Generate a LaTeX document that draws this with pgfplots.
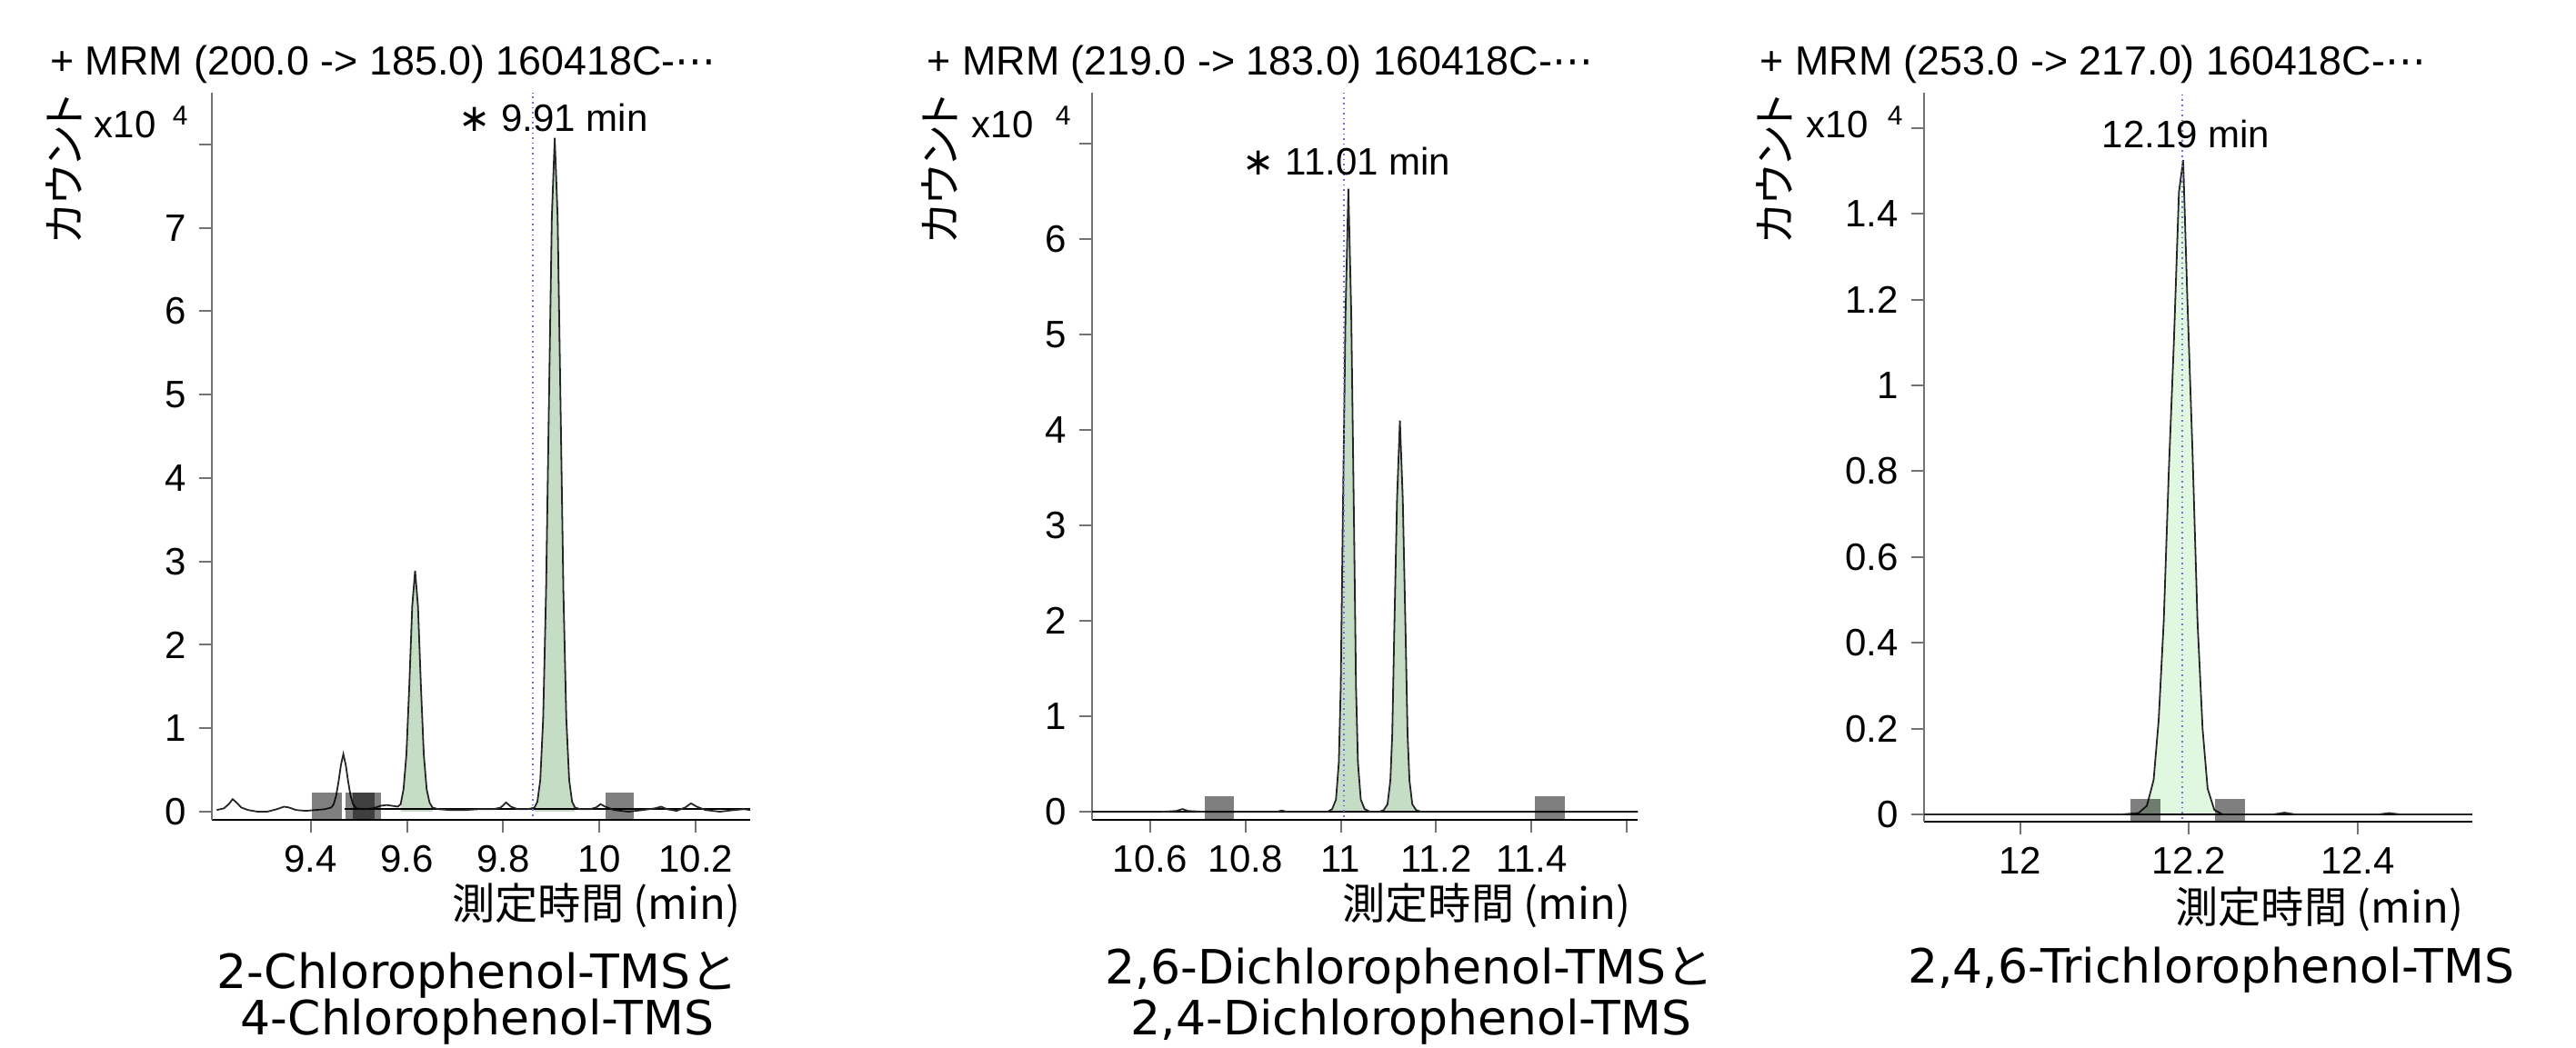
\documentclass[border=0pt]{standalone}
\usepackage{fontspec}
\usepackage{pgfplots}
\usepackage{pgfplotstable}
\pgfplotsset{compat=1.18}
\setmainfont{Liberation Sans}
\newfontfamily\dejavu{DejaVu Sans}
\newfontfamily\jp{Noto Sans CJK JP}
\newfontfamily\jpp[RawFeature=+palt]{Noto Sans CJK JP}
\newcommand{\tickfont}{\fontsize{10.5}{12}\selectfont}
\newcommand{\titlefont}{\fontsize{11.2}{13}\selectfont}
\newcommand{\capfont}{\dejavu\fontsize{13}{15}\selectfont}
\newcommand{\jpsize}{\fontsize{11.8}{14}\selectfont}
\definecolor{pkgreen}{RGB}{196,221,196}
\definecolor{pkgreenlt}{RGB}{224,247,224}
\definecolor{rtblue}{RGB}{110,110,235}

% chromatogram 1: MRM 200 -> 185
\pgfplotstableread{
t c
9.205 0.02
9.220 0.04
9.230 0.09
9.238 0.15
9.246 0.11
9.256 0.05
9.270 0.02
9.290 0.00
9.310 0.00
9.330 0.03
9.345 0.06
9.355 0.05
9.370 0.02
9.390 0.01
9.410 0.02
9.430 0.03
9.443 0.05
9.448 0.09
9.453 0.19
9.458 0.36
9.463 0.56
9.468 0.69
9.473 0.56
9.478 0.36
9.483 0.19
9.488 0.09
9.495 0.04
9.510 0.03
9.530 0.04
9.545 0.07
9.558 0.08
9.570 0.07
9.581 0.06
9.587 0.09
9.593 0.27
9.599 0.69
9.605 1.52
9.611 2.46
9.617 2.89
9.623 2.46
9.629 1.52
9.635 0.69
9.641 0.27
9.647 0.11
9.653 0.05
9.665 0.03
9.690 0.02
9.720 0.02
9.750 0.03
9.780 0.03
9.795 0.05
9.806 0.11
9.816 0.06
9.830 0.03
9.850 0.03
9.859 0.04
9.865 0.05
9.871 0.12
9.877 0.38
9.883 1.12
9.889 2.64
9.895 4.91
9.901 7.13
9.907 8.08
9.913 7.13
9.919 4.91
9.925 2.64
9.931 1.12
9.937 0.38
9.943 0.12
9.949 0.05
9.960 0.03
9.980 0.03
9.993 0.05
10.002 0.09
10.012 0.06
10.030 0.02
10.060 0.00
10.090 0.02
10.115 0.04
10.128 0.06
10.140 0.03
10.160 0.01
10.178 0.05
10.190 0.10
10.202 0.06
10.220 0.02
10.250 0.00
10.280 0.02
10.300 0.03
10.313 0.02
}\traceA

% chromatogram 2: MRM 219 -> 183
\pgfplotstableread{
t c
10.480 0.00
10.550 0.00
10.620 0.00
10.655 0.01
10.668 0.03
10.680 0.01
10.720 0.00
10.800 0.00
10.866 0.00
10.876 0.015
10.888 0.00
10.950 0.00
10.972 0.00
10.982 0.03
10.990 0.13
10.996 0.52
11.000 1.31
11.004 2.94
11.010 5.22
11.016 6.53
11.022 5.22
11.028 2.94
11.032 1.31
11.036 0.52
11.042 0.13
11.050 0.03
11.062 0.00
11.080 0.00
11.090 0.02
11.098 0.08
11.104 0.33
11.108 0.82
11.112 1.85
11.118 3.28
11.124 4.10
11.130 3.28
11.136 1.85
11.140 0.82
11.144 0.33
11.150 0.08
11.158 0.02
11.170 0.00
11.300 0.00
11.450 0.00
11.623 0.00
}\traceB

% chromatogram 3: MRM 253 -> 217
\pgfplotstableread{
t c
11.886 0.000
11.950 0.000
12.050 0.000
12.120 0.000
12.140 0.003
12.150 0.020
12.158 0.080
12.164 0.220
12.170 0.450
12.176 0.800
12.182 1.100
12.188 1.450
12.193 1.525
12.198 1.200
12.204 0.850
12.210 0.450
12.216 0.200
12.222 0.060
12.230 0.010
12.240 0.000
12.300 0.000
12.313 0.004
12.326 0.000
12.425 0.000
12.437 0.003
12.450 0.000
12.535 0.000
}\traceC

\pgfplotsset{chrom/.style={
  scale only axis, anchor=south west,
  axis lines=left,
  x axis line style={-, black, line width=0.6pt},
  y axis line style={-, black!55, line width=0.5pt},
  tick align=outside, major tick length=3.6pt,
  tick style={black!55, line width=0.5pt},
  tick label style={font=\tickfont},
}}
\pgfplotsset{trace/.style={black!85, line width=0.45pt},
  box/.style={fill=black, fill opacity=0.5, draw=none}}

\begin{document}
\begin{tikzpicture}
\useasboundingbox (0,0) rectangle (708.25pt,288.25pt);

\begin{axis}[chrom, at={(58.25pt,62.75pt)}, width=148pt, height=200pt,
  xmin=9.1949, xmax=10.3129, ymin=-0.098, ymax=8.621,
  xtick={9.4,9.6,9.8,10,10.2}, xticklabels={9.4,9.6,9.8,10,10.2},
  ytick={0,1,...,8}, yticklabels={0,1,2,3,4,5,6,7,{}}]
\addplot[fill=pkgreen, draw=none, restrict x to domain=9.585:9.655] table[x=t,y=c] {\traceA} \closedcycle;
\addplot[fill=pkgreen, draw=none, restrict x to domain=9.860:9.952] table[x=t,y=c] {\traceA} \closedcycle;
\addplot[black, line width=0.5pt] coordinates {(9.47,0.03)(10.313,0.03)};
\addplot[trace] table[x=t,y=c] {\traceA};
\addplot[rtblue, densely dotted, line width=0.4pt] coordinates {(9.862,-0.05)(9.862,8.621)};
\addplot[box] coordinates {(9.4026,-0.098)(9.4643,-0.098)(9.4643,0.23)(9.4026,0.23)};
\addplot[box] coordinates {(9.4725,-0.098)(9.5333,-0.098)(9.5333,0.23)(9.4725,0.23)};
\addplot[box] coordinates {(9.4867,-0.098)(9.5462,-0.098)(9.5462,0.23)(9.4867,0.23)};
\addplot[box] coordinates {(10.0125,-0.098)(10.072,-0.098)(10.072,0.23)(10.0125,0.23)};
\end{axis}

\begin{axis}[chrom, at={(300.25pt,62.75pt)}, width=150.1pt, height=200pt,
  xmin=10.4788, xmax=11.623, ymin=-0.083, ymax=7.536,
  xtick={10.6,10.8,11,11.2,11.4,11.6}, xticklabels={10.6,10.8,11,11.2,11.4,{}},
  ytick={0,1,...,7}, yticklabels={0,1,2,3,4,5,6,{}}]
\addplot[fill=pkgreen, draw=none, restrict x to domain=10.975:11.055] table[x=t,y=c] {\traceB} \closedcycle;
\addplot[fill=pkgreen, draw=none, restrict x to domain=11.085:11.162] table[x=t,y=c] {\traceB} \closedcycle;
\addplot[black, line width=0.5pt] coordinates {(10.4788,0)(11.623,0)};
\addplot[trace] table[x=t,y=c] {\traceB};
\addplot[rtblue, densely dotted, line width=0.4pt] coordinates {(11.007,-0.05)(11.007,7.536)};
\addplot[box] coordinates {(10.715,-0.083)(10.777,-0.083)(10.777,0.165)(10.715,0.165)};
\addplot[box] coordinates {(11.406,-0.083)(11.469,-0.083)(11.469,0.165)(11.406,0.165)};
\end{axis}

\begin{axis}[chrom, at={(529pt,62.25pt)}, width=150.7pt, height=200.5pt,
  xmin=11.886, xmax=12.5355, ymin=-0.017, ymax=1.682,
  xtick={12,12.2,12.4}, xticklabels={12,12.2,12.4},
  ytick={0,0.2,0.4,0.6,0.8,1,1.2,1.4,1.6}, yticklabels={0,0.2,0.4,0.6,0.8,1,1.2,1.4,{}}]
\addplot[fill=pkgreenlt, draw=none, restrict x to domain=12.138:12.232] table[x=t,y=c] {\traceC} \closedcycle;
\addplot[black, line width=0.5pt] coordinates {(11.886,0)(12.5355,0)};
\addplot[trace] table[x=t,y=c] {\traceC};
\addplot[rtblue, densely dotted, line width=0.4pt] coordinates {(12.192,-0.01)(12.192,1.682)};
\addplot[box] coordinates {(12.131,-0.017)(12.166,-0.017)(12.166,0.035)(12.131,0.035)};
\addplot[box] coordinates {(12.231,-0.017)(12.266,-0.017)(12.266,0.035)(12.231,0.035)};
\end{axis}

% texts, placed in pixel units of the reference (origin top left)
\begin{scope}[x=0.25pt, y=-0.25pt, yshift=288.25pt]
\node[anchor=base west, inner sep=0, font=\titlefont] at (54.5,83) {+ MRM (200.0 -> 185.0) 160418C-{\dejavu ⋯}};
\node[anchor=base west, inner sep=0, font=\titlefont] at (1019,83) {+ MRM (219.0 -> 183.0) 160418C-{\dejavu ⋯}};
\node[anchor=base west, inner sep=0, font=\titlefont] at (1935,83) {+ MRM (253.0 -> 217.0) 160418C-{\dejavu ⋯}};

\node[anchor=base west, inner sep=0, font=\tickfont] at (103,152) {x10};
\node[anchor=base west, inner sep=0, font=\fontsize{7.5}{9}\selectfont] at (189,138) {4};
\node[anchor=base west, inner sep=0, font=\tickfont] at (1068,152) {x10};
\node[anchor=base west, inner sep=0, font=\fontsize{7.5}{9}\selectfont] at (1160,138) {4};
\node[anchor=base west, inner sep=0, font=\tickfont] at (1986,152) {x10};
\node[anchor=base west, inner sep=0, font=\fontsize{7.5}{9}\selectfont] at (2075,138) {4};

\node[rotate=90, inner sep=0, font=\jpp\jpsize] at (70,186) {カウント};
\node[rotate=90, inner sep=0, font=\jpp\jpsize] at (1033,186) {カウント};
\node[rotate=90, inner sep=0, font=\jpp\jpsize] at (1951,186) {カウント};

\node[anchor=base, inner sep=0, font=\tickfont] at (608.5,145) {{\dejavu ∗} 9.91 min};
\node[anchor=base, inner sep=0, font=\tickfont] at (1481,193) {{\dejavu ∗} 11.01 min};
\node[anchor=base, inner sep=0, font=\tickfont] at (2404,163) {12.19 min};

\node[anchor=base east, inner sep=0, font=\jp\jpsize] at (815,1012) {測定時間 (min)};
\node[anchor=base east, inner sep=0, font=\jp\jpsize] at (1794,1012) {測定時間 (min)};
\node[anchor=base east, inner sep=0, font=\jp\jpsize] at (2710,1016) {測定時間 (min)};

\node[anchor=base, inner sep=0, font=\capfont] at (525,1088) {2-Chlorophenol-TMS{\jp と}};
\node[anchor=base, inner sep=0, font=\capfont] at (525,1139) {4-Chlorophenol-TMS};
\node[anchor=base, inner sep=0, font=\capfont] at (1550,1083) {2,6-Dichlorophenol-TMS{\jp と}};
\node[anchor=base, inner sep=0, font=\capfont] at (1552,1139) {2,4-Dichlorophenol-TMS};
\node[anchor=base, inner sep=0, font=\capfont] at (2431.5,1082) {2,4,6-Trichlorophenol-TMS};
\end{scope}
\end{tikzpicture}
\end{document}
